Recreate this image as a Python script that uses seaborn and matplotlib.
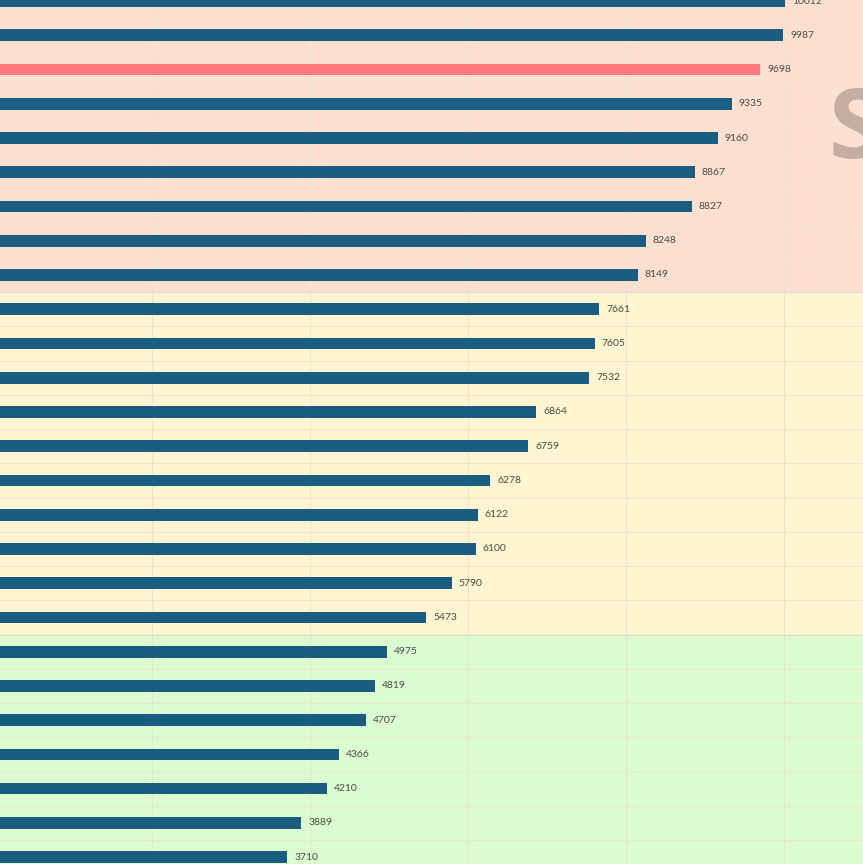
import matplotlib
matplotlib.use("Agg")
import numpy as np
import pandas as pd
import seaborn as sns
import matplotlib.pyplot as plt

# Valores (de cima para baixo)
valores = [10012, 9987, 9698, 9335, 9160, 8867, 8827, 8248, 8149,
           7661, 7605, 7532, 6864, 6759, 6278, 6122, 6100, 5790, 5473,
           4975, 4819, 4707, 4366, 4210, 3889, 3710]
itens = [f"item {i + 1}" for i in range(len(valores))]
destaque = "item 3"

# Faixas (tiers) em posições de categoria
faixas = [(-1.0, 8.5, "#fde0cf"), (8.5, 18.5, "#fff5d1"), (18.5, 26.0, "#dbfdcf")]
letra_tier = "S"

cor_barra = "#1b5d80"
cor_destaque = "#ff7b7b"

df = pd.DataFrame({"item": itens, "valor": valores})
cores = {n: (cor_destaque if n == destaque else cor_barra) for n in itens}

sns.set_style("white")
plt.rcParams['font.family'] = ['Lato', 'DejaVu Sans']

fig = plt.figure(figsize = (8.63, 8.64), dpi = 100)
ax = fig.add_axes([0, 0, 1, 1])

for y0, y1, c in faixas:
    ax.axhspan(y0, y1, color = c, zorder = 0, lw = 0)

sns.barplot(data = df, y = "item", x = "valor", hue = "item", palette = cores,
            orient = "h", width = 0.34, saturation = 1, linewidth = 0,
            legend = False, ax = ax, zorder = 3)

for cont in ax.containers:
    ax.bar_label(cont, fmt = "%d", padding = 5, fontsize = 7.5, color = "#4a4a4a")

# Grade
for x in range(2000, 12000, 2000):
    ax.axvline(x, color = "#ebe3d6", lw = 0.8, zorder = 1)
for k in np.arange(0.5, len(valores), 1.0):
    ax.axhline(k, color = "#efe6cf", lw = 0.7, zorder = 1)
for k in (8.5, 18.5):
    ax.axhline(k, color = "#e2ddd2", lw = 0.9, zorder = 1)

ax.text(10560, 4.585, letra_tier, fontsize = 70, fontweight = "bold",
        family = ["Open Sans", "DejaVu Sans"], color = "#c4ada1",
        ha = "left", va = "baseline", zorder = 2)

ax.set_xlim(76, 10997)
ax.set_ylim(25.2, -0.03)
ax.set_xlabel("")
ax.set_ylabel("")
ax.set_xticks([])
ax.set_yticks([])
for s in ax.spines.values():
    s.set_visible(False)

fig.savefig("out.png", dpi = 100)
